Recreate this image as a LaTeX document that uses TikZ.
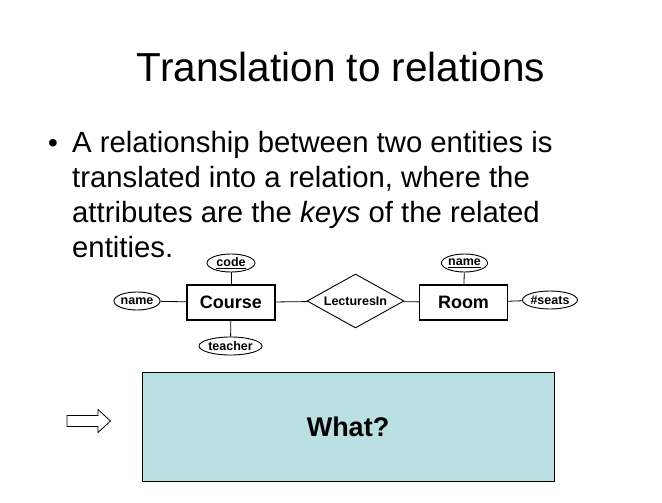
\documentclass[tikz,border=0pt]{standalone}
\usepackage{fontspec}
\setmainfont{Liberation Sans}
\usetikzlibrary{shapes.geometric}
\definecolor{boxblue}{RGB}{187,224,227}
\begin{document}
\begin{tikzpicture}[x=1pt,y=-1pt,
  entity/.style={draw,line width=1.3pt,minimum width=88pt,minimum height=35pt,inner sep=0pt,font=\fontsize{18}{20}\selectfont\bfseries},
  attr/.style={draw,ellipse,line width=0.9pt,inner sep=0pt,minimum height=18pt,font=\fontsize{12.5}{13}\selectfont\bfseries},
  rel/.style={draw,diamond,aspect=1.8,line width=0.9pt,inner sep=0pt,minimum width=97pt,minimum height=54pt,font=\fontsize{12.5}{13}\selectfont\bfseries},
  link/.style={line width=0.8pt},
  bodytext/.style={anchor=base west,inner sep=0pt,font=\fontsize{29.3}{31}\selectfont}]
\useasboundingbox (0,0) rectangle (662,503);
% title
\node[anchor=base,inner sep=0pt,font=\fontsize{40.5}{44}\selectfont] (title) at (341,82) {Translation to relations};
% bullet
\node[anchor=base,inner sep=0pt,font=\fontsize{28}{30}\selectfont] (bul) at (53,153) {•};
\node[bodytext] (l1) at (72,153) {A relationship between two entities is};
\node[bodytext] (l2) at (72,187.7) {translated into a relation, where the};
\node[bodytext] (l3) at (72,222.4) {attributes are the \textit{keys} of the related};
\node[bodytext] (l4) at (72,257) {entities.};
% ER diagram
\node[entity] (course) at (231,302.5) {Course};
\node[entity] (room) at (463.5,302.5) {Room};
\node[rel] (lec) at (355.5,301) {LecturesIn};
\node[attr,minimum width=48pt] (code) at (231,263) {\underline{code}};
\node[attr,minimum width=42pt] (cname) at (137,301) {name};
\node[attr,minimum width=63pt] (teacher) at (230.5,346) {teacher};
\node[attr,minimum width=45pt] (rname) at (464.5,263) {\underline{name}};
\node[attr,minimum width=52pt] (seats) at (550,300) {\#seats};
\draw[link] (cname) -- (course);
\draw[link] (code) -- (course);
\draw[link] (teacher) -- (course);
\draw[link] (course) -- (lec);
\draw[link] (lec) -- (room);
\draw[link] (rname) -- (room);
\draw[link] (room) -- (seats);
% result box
\node[draw,line width=0.8pt,fill=boxblue,minimum width=412pt,minimum height=109pt,inner sep=0pt,font=\fontsize{27}{29}\selectfont\bfseries] (what) at (348,426.5) {What?};
% hollow arrow
\draw[line width=0.8pt,fill=white] (67,415.5) -- (98,415.5) -- (98,409.5) -- (110.5,421) -- (98,432.5) -- (98,426.5) -- (67,426.5) -- cycle;
\end{tikzpicture}
\end{document}
